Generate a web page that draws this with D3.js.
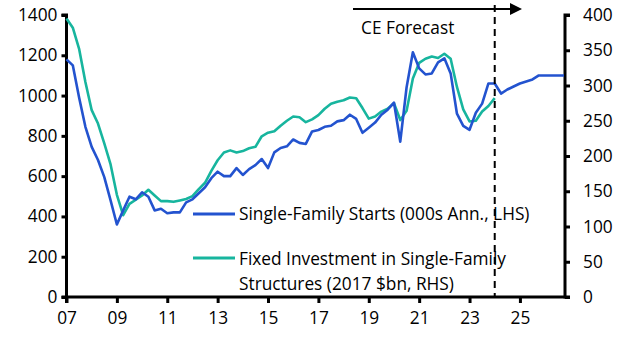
<!DOCTYPE html>
<html>
<head>
<meta charset="utf-8">
<script src="https://cdn.jsdelivr.net/npm/d3@7"></script>
<style>
  html, body { margin: 0; padding: 0; background: #fff; }
  svg { display: block; }
  text { font-family: "Open Sans", sans-serif; fill: #000; }
</style>
</head>
<body>
<svg id="chart" width="625" height="344"></svg>
<script>
// ---- Data (quarterly, starting 2007 Q1) ----
const startYear = 2007;
const starts = [ // Single-family starts, 000s annualised (LHS)
  1180, 1150, 990, 845,
  745, 680, 595, 480,
  360, 430, 498, 485,
  520, 498, 430, 438,
  416, 420, 420, 470,
  485, 515, 545, 590,
  622, 600, 600, 640,
  606, 635, 655, 685,
  640, 718, 740, 748,
  782, 765, 760, 822,
  829, 845, 850, 872,
  878, 905, 884, 815,
  840, 866, 905, 930,
  965, 771, 1040, 1215,
  1135, 1105, 1110, 1165,
  1185, 1110, 910, 850,
  830, 915, 960, 1060,
  1060, 1010, 1030, 1045,
  1060, 1070, 1080, 1100,
  1100, 1100, 1100, 1100
];
const investment = [ // Fixed investment in single-family structures, 2017 $bn (RHS)
  395, 382, 352, 305,
  265, 246, 218, 188,
  145, 116, 132, 138,
  144, 152, 144, 136,
  136, 135, 137, 139,
  143, 153, 162, 179,
  194, 205, 208, 205,
  207, 211, 213, 228,
  233, 235, 243, 250,
  256, 255, 248, 252,
  258, 267, 274, 277,
  279, 283, 282, 268,
  253, 256, 263, 267,
  275, 251, 264, 310,
  332, 338, 341, 339,
  345, 338, 298, 266,
  249, 250, 263, 271,
  282
];
const xTickYears = [2007, 2009, 2011, 2013, 2015, 2017, 2019, 2021, 2023, 2025];
const xTickLabels = ["07", "09", "11", "13", "15", "17", "19", "21", "23", "25"];
const leftTicks = [0, 200, 400, 600, 800, 1000, 1200, 1400];
const rightTicks = [0, 50, 100, 150, 200, 250, 300, 350, 400];
const forecastStart = 2024;
const seriesNames = ["Single-Family Starts (000s Ann., LHS)",
  ["Fixed Investment in Single-Family", "Structures (2017 $bn, RHS)"]];
const colors = { starts: "#2353CF", invest: "#17B59E" };

// ---- Layout ----
const svg = d3.select("#chart");
const L = 66.5, R = 565, T = 15, B = 297;
const FONT = "'Open Sans', sans-serif";
const fontSize = 17.3;

const x = d3.scaleLinear().domain([2007, 2026.75]).range([L, R - 1]);
const yL = d3.scaleLinear().domain([0, 1400]).range([B, T]);
const yR = d3.scaleLinear().domain([0, 400]).range([B, T]);

const toT = i => startYear + i / 4;

// Axes
const axisLeft = d3.axisLeft(yL).tickValues(leftTicks).tickFormat(d3.format("d"))
  .tickSize(5).tickPadding(4);
const gL = svg.append("g").attr("transform", `translate(${L},0)`).call(axisLeft);
const axisRight = d3.axisRight(yR).tickValues(rightTicks).tickFormat(d3.format("d"))
  .tickSize(5).tickPadding(13);
const gR = svg.append("g").attr("transform", `translate(${R},0)`).call(axisRight);
const axisBottom = d3.axisBottom(x).tickValues(xTickYears)
  .tickFormat((d, i) => xTickLabels[i]).tickSize(6).tickPadding(9);
const gB = svg.append("g").attr("transform", `translate(0,${B})`).call(axisBottom);

[gL, gR, gB].forEach(g => {
  g.select(".domain").attr("stroke", "#000").attr("stroke-width", 3);
  g.selectAll(".tick line").attr("stroke", "#000").attr("stroke-width", 3);
  g.selectAll(".tick text").attr("font-size", fontSize)
    .attr("font-family", FONT).attr("fill", "#000");
});
gL.select(".domain").attr("d", `M-5,${T}H0V${B}H-5`).attr("fill", "none");
gR.select(".domain").attr("d", `M5,${T}H0V${B}H5`).attr("fill", "none");
gB.select(".domain").attr("d", `M${L},6V0H${R}`).attr("fill", "none");

// Lines
const lineStarts = d3.line().x((d, i) => x(toT(i))).y(d => yL(d));
const lineInv = d3.line().x((d, i) => x(toT(i))).y(d => yR(d));

svg.append("path").datum(investment).attr("d", lineInv)
  .attr("fill", "none").attr("stroke", colors.invest).attr("stroke-width", 2.6)
  .attr("stroke-linejoin", "round");
svg.append("path").datum(starts).attr("d", lineStarts)
  .attr("fill", "none").attr("stroke", colors.starts).attr("stroke-width", 2.6)
  .attr("stroke-linejoin", "round");

// Forecast marker
const fx = x(forecastStart);
svg.append("line").attr("x1", fx).attr("x2", fx).attr("y1", 5).attr("y2", B)
  .attr("stroke", "#000").attr("stroke-width", 2).attr("stroke-dasharray", "7,5");
svg.append("line").attr("x1", 353).attr("x2", 511).attr("y1", 9).attr("y2", 9)
  .attr("stroke", "#000").attr("stroke-width", 2);
svg.append("path").attr("d", "M510,3L522,9L510,15Z").attr("fill", "#000");
svg.append("text").attr("x", 361).attr("y", 34).attr("font-size", fontSize)
  .text("CE Forecast");

// Legend
svg.append("line").attr("x1", 193).attr("x2", 235).attr("y1", 214).attr("y2", 214)
  .attr("stroke", colors.starts).attr("stroke-width", 3);
svg.append("text").attr("x", 239).attr("y", 220).attr("font-size", fontSize)
  .text(seriesNames[0]);
svg.append("line").attr("x1", 193).attr("x2", 235).attr("y1", 258).attr("y2", 258)
  .attr("stroke", colors.invest).attr("stroke-width", 3);
svg.append("text").attr("x", 239).attr("y", 264.5).attr("font-size", fontSize)
  .text(seriesNames[1][0]);
svg.append("text").attr("x", 239).attr("y", 289.5).attr("font-size", fontSize)
  .text(seriesNames[1][1]);
</script>
</body>
</html>
